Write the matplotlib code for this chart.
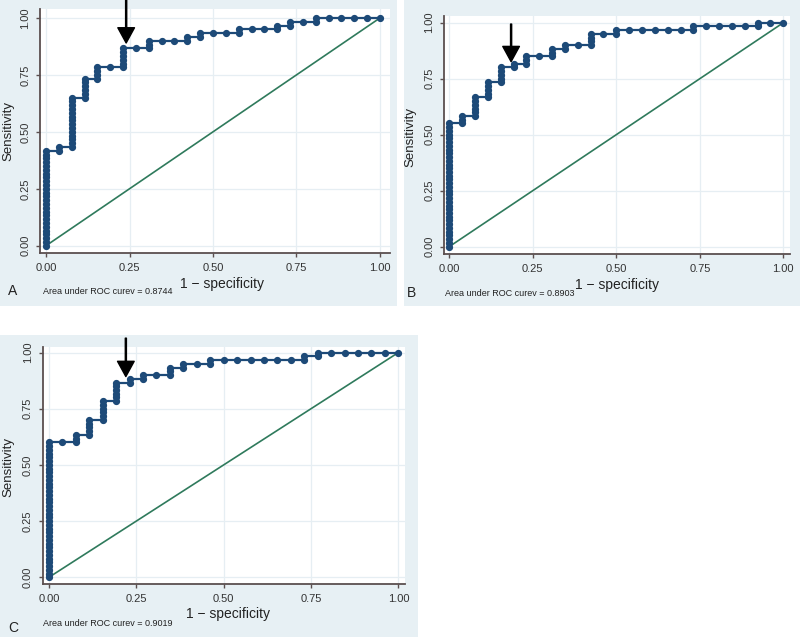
import matplotlib
matplotlib.use("Agg")
import matplotlib.pyplot as plt
from matplotlib.patches import Rectangle
import numpy as np

plt.rcParams['font.family'] = ['Liberation Sans', 'DejaVu Sans']

# ---------------- data ----------------
N_NEG = 26   # number of negatives (steps along 1 - specificity)
N_POS = 60   # number of positives (steps along sensitivity)

# true-positive count reached at each false-positive count 0..25
sens_A = [25, 26, 39, 44, 47, 47, 52, 52, 54, 54, 54, 55, 56, 56, 56,
          57, 57, 57, 58, 59, 59, 60, 60, 60, 60, 60]
sens_B = [33, 35, 40, 44, 48, 49, 51, 51, 53, 54, 54, 57, 57, 58, 58,
          58, 58, 58, 58, 59, 59, 59, 59, 59, 60, 60]
sens_C = [36, 36, 38, 42, 47, 52, 53, 54, 54, 56, 57, 57, 58, 58, 58,
          58, 58, 58, 58, 59, 60, 60, 60, 60, 60, 60]

panel_letters = ["A", "B", "C"]
auc_labels = ["Area under ROC curev = 0.8744",
              "Area under ROC curev = 0.8903",
              "Area under ROC curev = 0.9019"]
cut_fpr = [0.24, 0.185, 0.22]      # arrow (cut-off) positions
cut_sens = [0.89, 0.826, 0.893]
tick_vals = [0.0, 0.25, 0.50, 0.75, 1.0]
tick_labels = ["0.00", "0.25", "0.50", "0.75", "1.00"]
x_title = "1 \u2212 specificity"
y_title = "Sensitivity"

# ---------------- style ----------------
W, H = 800, 641
BG = "#e7f0f4"
CURVE = "#1d4a78"
DIAG = "#2f7a5c"
SPINE = "#5b4f4f"
GRID = "#e6eef3"


def roc_points(sens):
    xs, ys = [0], [0]
    prev = 0
    for k, s in enumerate(sens):
        for j in range(prev + 1, s + 1):
            xs.append(k)
            ys.append(j)
        prev = s
        xs.append(k + 1)
        ys.append(prev)
    return np.array(xs) / N_NEG, np.array(ys) / N_POS


def fx(x):
    return x / W


def fy(y):
    return 1 - y / H


fig = plt.figure(figsize=(W / 100, H / 100), dpi=100)

panels = [
    dict(bg=(0, 0, 397, 306), ax=(40, 9.3, 390, 253), xlim=(-0.018, 1.03), ylim=(-0.032, 1.038),
         letter=(8, 291), auc=(43, 292), xlab=(222, 284), ylab=(8, 131), top=1.078),
    dict(bg=(404, 0, 800, 306), ax=(444.3, 16, 790, 254), xlim=(-0.015, 1.02), ylim=(-0.033, 1.03),
         letter=(407, 293), auc=(445, 293), xlab=(617, 285), ylab=(410, 137), top=0.994),
    dict(bg=(0, 335, 418, 637), ax=(42.7, 346.7, 405, 584), xlim=(-0.018, 1.019), ylim=(-0.03, 1.026),
         letter=(8, 628), auc=(43, 623), xlab=(228, 614), ylab=(8, 467), top=1.064),
]
all_sens = [sens_A, sens_B, sens_C]

for i, p in enumerate(panels):
    x0, y0, x1, y1 = p["bg"]
    fig.patches.append(Rectangle((fx(x0), fy(y1)), (x1 - x0) / W, (y1 - y0) / H,
                                 transform=fig.transFigure, facecolor=BG, edgecolor="none",
                                 zorder=-10))
    l, t, r, b = p["ax"]
    ax = fig.add_axes([fx(l), fy(b), (r - l) / W, (b - t) / H], zorder=1)
    ax.set_facecolor("white")
    ax.set_xlim(*p["xlim"])
    ax.set_ylim(*p["ylim"])
    for s in ["top", "right"]:
        ax.spines[s].set_visible(False)
    for s in ["left", "bottom"]:
        ax.spines[s].set_color(SPINE)
        ax.spines[s].set_linewidth(1.3)
    ax.set_xticks(tick_vals, tick_labels)
    ax.set_yticks(tick_vals, tick_labels, rotation=90, va="center")
    ax.tick_params(axis="both", colors=SPINE, length=3, width=1.0, labelsize=8,
                   labelcolor="#333333", pad=4)
    ax.grid(True, color=GRID, linewidth=0.9)
    ax.set_axisbelow(True)

    ax.plot([0, 1], [0, 1], color=DIAG, linewidth=1.2, zorder=2)
    xs, ys = roc_points(all_sens[i])
    ax.plot(xs, ys, color=CURVE, linewidth=1.6, marker="o", markersize=4.2,
            markerfacecolor=CURVE, markeredgecolor=CURVE, zorder=3, clip_on=False)

    ax.annotate("", xy=(cut_fpr[i], cut_sens[i]), xytext=(cut_fpr[i], p["top"]),
                xycoords="data", textcoords="data", annotation_clip=False,
                arrowprops=dict(facecolor="black", edgecolor="black", width=0.8,
                                headwidth=12, headlength=11, shrink=0), zorder=5)

    fig.text(fx(p["letter"][0]), fy(p["letter"][1]), panel_letters[i], fontsize=10,
             ha="left", va="center", color="#222222")
    fig.text(fx(p["auc"][0]), fy(p["auc"][1]), auc_labels[i], fontsize=6.5,
             ha="left", va="center", color="#222222")
    fig.text(fx(p["xlab"][0]), fy(p["xlab"][1]), x_title, fontsize=10,
             ha="center", va="center", color="#222222")
    fig.text(fx(p["ylab"][0]), fy(p["ylab"][1]), y_title, fontsize=9.5, rotation=90,
             ha="center", va="center", color="#222222")

fig.savefig("out.png", dpi=100)
